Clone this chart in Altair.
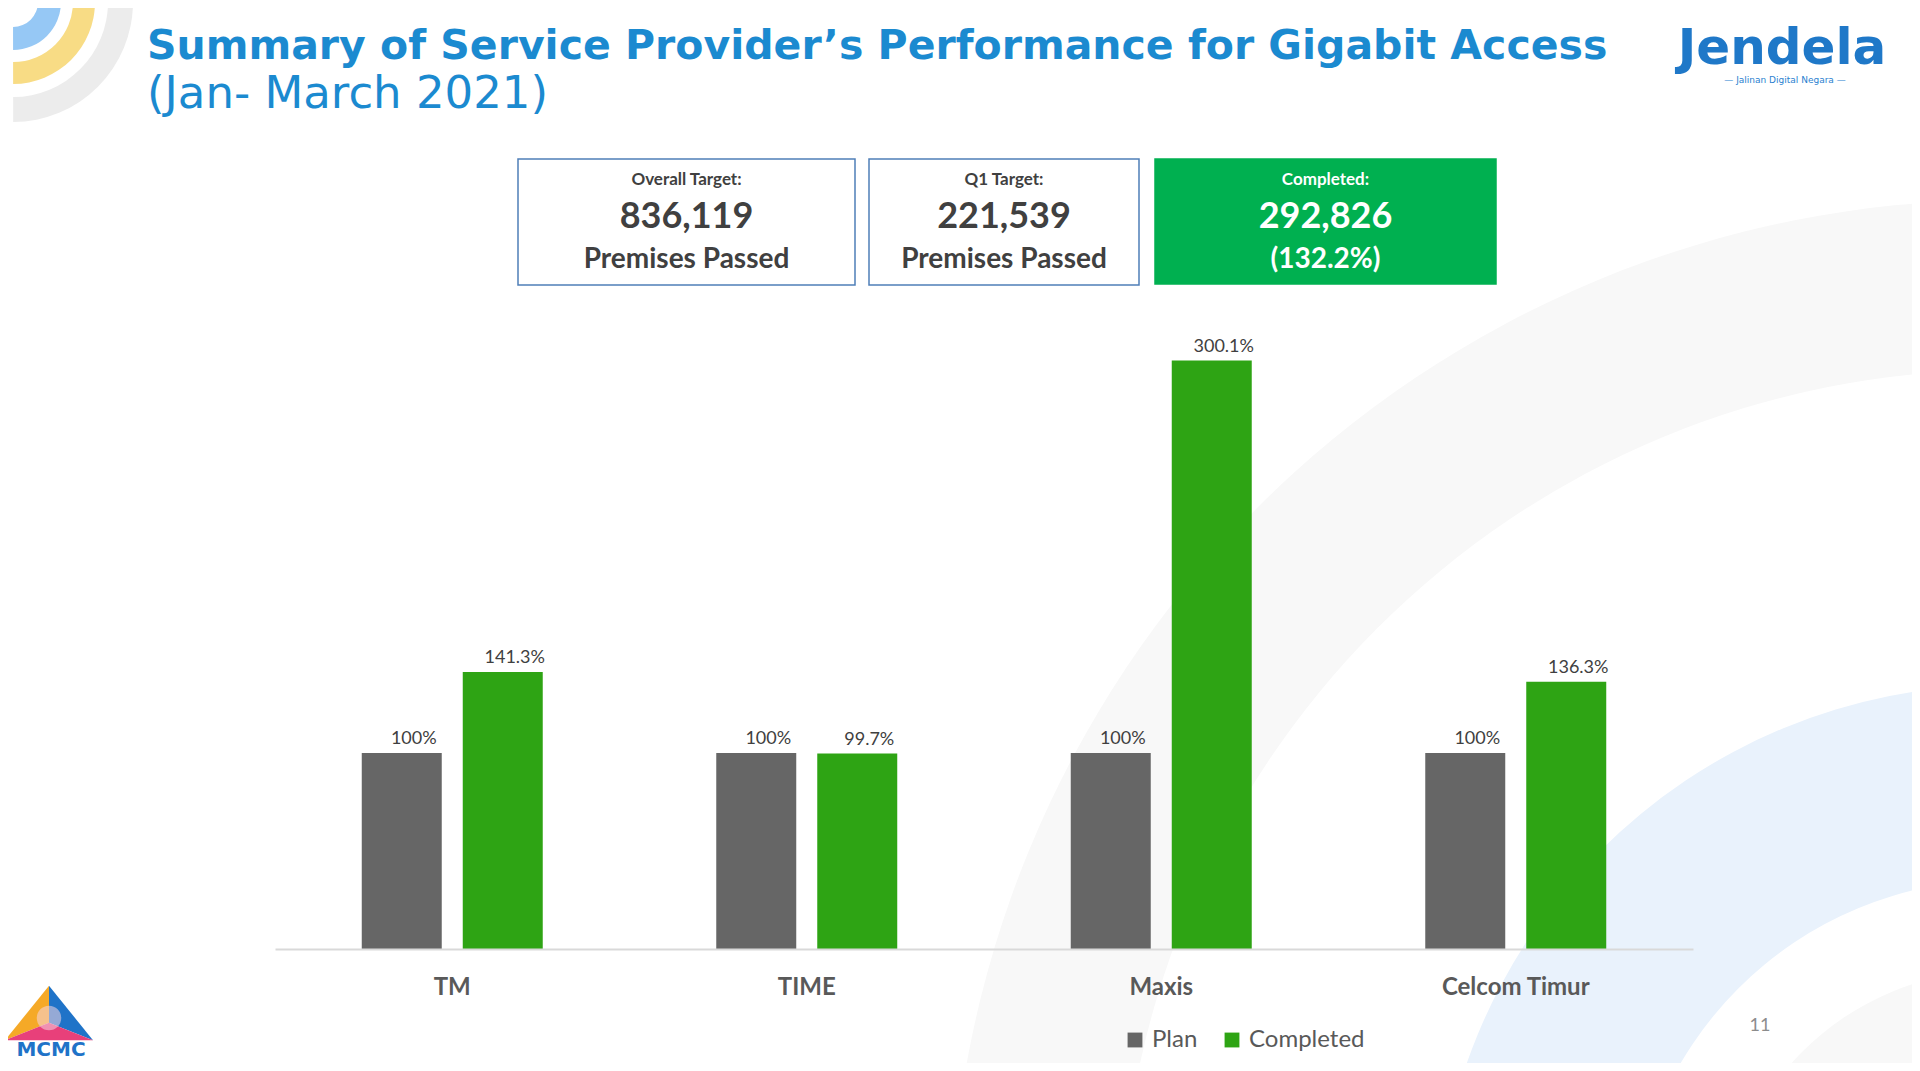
import altair as alt
import pandas as pd

# ---- data ----
providers = ["TM", "TIME", "Maxis", "Celcom Timur"]
series = ["Plan", "Completed"]
plan_values = [100, 100, 100, 100]
completed_values = [141.3, 99.7, 300.1, 136.3]

title_line1 = "Summary of Service Provider\u2019s Performance for Gigabit Access"
title_line2 = "(Jan- March 2021)"
box_heads = ["Overall Target:", "Q1 Target:", "Completed:"]
box_values = ["836,119", "221,539", "292,826"]
box_tails = ["Premises Passed", "Premises Passed", "(132.2%)"]

rows = []
for p, pv, cv in zip(providers, plan_values, completed_values):
    rows.append({"provider": p, "series": "Plan", "value": pv})
    rows.append({"provider": p, "series": "Completed", "value": cv})
df = pd.DataFrame(rows)
df["label"] = df["value"].map(lambda v: f"{v:g}%")

GRAY = "#666666"
GREEN = "#2ea414"
TEXT = "#404040"
BLUE = "#1b8ad0"
FONT = "Lato"

one = pd.DataFrame({"k": [0]})


def txt(text, x, y, size, weight="normal", color=TEXT, align="center", font=FONT):
    return alt.Chart(pd.DataFrame({"t": [text]})).mark_text(
        fontSize=size, fontWeight=weight, color=color, align=align,
        baseline="middle", font=font
    ).encode(x=alt.value(x), y=alt.value(y), text="t:N")


def box(x1, x2, y1, y2, fill, stroke):
    return alt.Chart(one).mark_rect(fill=fill, stroke=stroke, strokeWidth=1.5).encode(
        x=alt.value(x1), x2=alt.value(x2), y=alt.value(y1), y2=alt.value(y2)
    )


def arc(cx, cy, r1, r2, t1, t2, color):
    return alt.Chart(one).mark_arc(
        radius=r2, radius2=r1, theta=t1, theta2=t2, color=color
    ).encode(x=alt.value(cx), y=alt.value(cy))


# ---- background decorations (coordinates relative to plot origin) ----
bg = [
    arc(1725, 948, 880, 1050, 4.71, 6.283, "#f8f8f8"),
    arc(1725, 948, 370, 565, 4.71, 6.283, "#e9f2fc"),
    arc(1725, 948, 200, 280, 4.71, 6.283, "#f8f8f8"),
    # top-left signal arcs
    arc(-262, -300, 95, 120, 1.57, 3.14, "#ececec"),
    arc(-262, -300, 60, 82, 1.57, 3.14, "#f8dc85"),
    arc(-262, -300, 25, 48, 1.57, 3.14, "#96c8f5"),
]

# ---- bars ----
base = alt.Chart(df).encode(
    x=alt.X("provider:N", sort=providers,
            scale=alt.Scale(paddingInner=0, paddingOuter=0),
            axis=alt.Axis(title=None, labelFontSize=24, labelFontWeight="bold",
                          labelColor="#595959", labelFont=FONT, ticks=False,
                          domainColor="#d9d9d9", domainWidth=2, labelPadding=26,
                          labelAngle=0, zindex=1)),
    xOffset=alt.XOffset("series:N", sort=series,
                        scale=alt.Scale(paddingInner=0.208, paddingOuter=0.859)),
    y=alt.Y("value:Q", scale=alt.Scale(domain=[0, 330], nice=False), axis=None),
)

bars = base.mark_bar().encode(
    color=alt.Color("series:N", sort=series,
                    scale=alt.Scale(domain=series, range=[GRAY, GREEN]),
                    legend=alt.Legend(title=None, orient="none", direction="horizontal",
                                      legendX=848, legendY=726, symbolType="square",
                                      symbolSize=220, symbolStrokeWidth=0,
                                      labelFontSize=24, labelFont=FONT,
                                      labelColor="#595959", labelOffset=5,
                                      columnPadding=22, zindex=1))
)

labels = base.mark_text(baseline="bottom", dy=-5, dx=12, fontSize=18,
                        font=FONT, color=TEXT).encode(text="label:N")

# ---- header / boxes ----
deco = [
    txt(title_line1, -128, -255, 41, weight="bold", color=BLUE, align="left",
        font="DejaVu Sans"),
    txt(title_line2, -128, -208, 45, weight="normal", color=BLUE, align="left",
        font="DejaVu Sans"),
    box(243, 580, -143, -17, "#ffffff", "#4f7fb8"),
    box(594, 864, -143, -17, "#ffffff", "#4f7fb8"),
    box(880, 1221, -143, -18, "#00b050", "#00b050"),
]
centers = [411.5, 729, 1050.5]
for i, cx in enumerate(centers):
    col = "#ffffff" if i == 2 else TEXT
    deco.append(txt(box_heads[i], cx, -122, 17, weight="bold", color=col))
    deco.append(txt(box_values[i], cx, -85, 36, weight="bold", color=col))
    deco.append(txt(box_tails[i], cx, -42, 28, weight="bold", color=col))

# Jendela logo
deco.append(txt("Jendela", 1507, -253, 50, weight="bold", color="#1f78c8",
                font="DejaVu Sans"))
deco.append(txt("\u2014 Jalinan Digital Negara \u2014", 1510, -222, 9, color="#2a7fd0",
                font="DejaVu Sans"))

# MCMC logo
tri_left = "M0,-0.62L0,0.22L-1,0.62Z"
tri_right = "M0,-0.62L1,0.62L0,0.22Z"
tri_bottom = "M-1,0.62L0,0.22L1,0.62Z"
for shp, c in [(tri_left, "#f5a927"), (tri_right, "#1f73c8"), (tri_bottom, "#e8407a")]:
    deco.append(alt.Chart(one).mark_point(shape=shp, size=7744, filled=True,
                                          opacity=1, color=c, strokeWidth=0)
                .encode(x=alt.value(-226), y=alt.value(711)))
deco.append(alt.Chart(one).mark_point(shape="circle", size=600, filled=True,
                                      opacity=0.55, color="#f6d6e0")
            .encode(x=alt.value(-226), y=alt.value(716)))
deco.append(txt("MCMC", -224, 748, 20, weight="bold", color="#1f73c8",
                font="DejaVu Sans"))

# page number
deco.append(txt("11", 1485, 724, 18, color="#8c8c8c"))

chart = alt.layer(*bg, bars, labels, *deco).properties(
    width=1418, height=647,
    padding={"left": 267, "top": 294, "right": 219, "bottom": 114},
    autosize=alt.AutoSizeParams(type="none"),
    background="#ffffff",
).configure_view(stroke=None)

chart.save("out.html", embed_options={"renderer": "svg", "actions": False})
